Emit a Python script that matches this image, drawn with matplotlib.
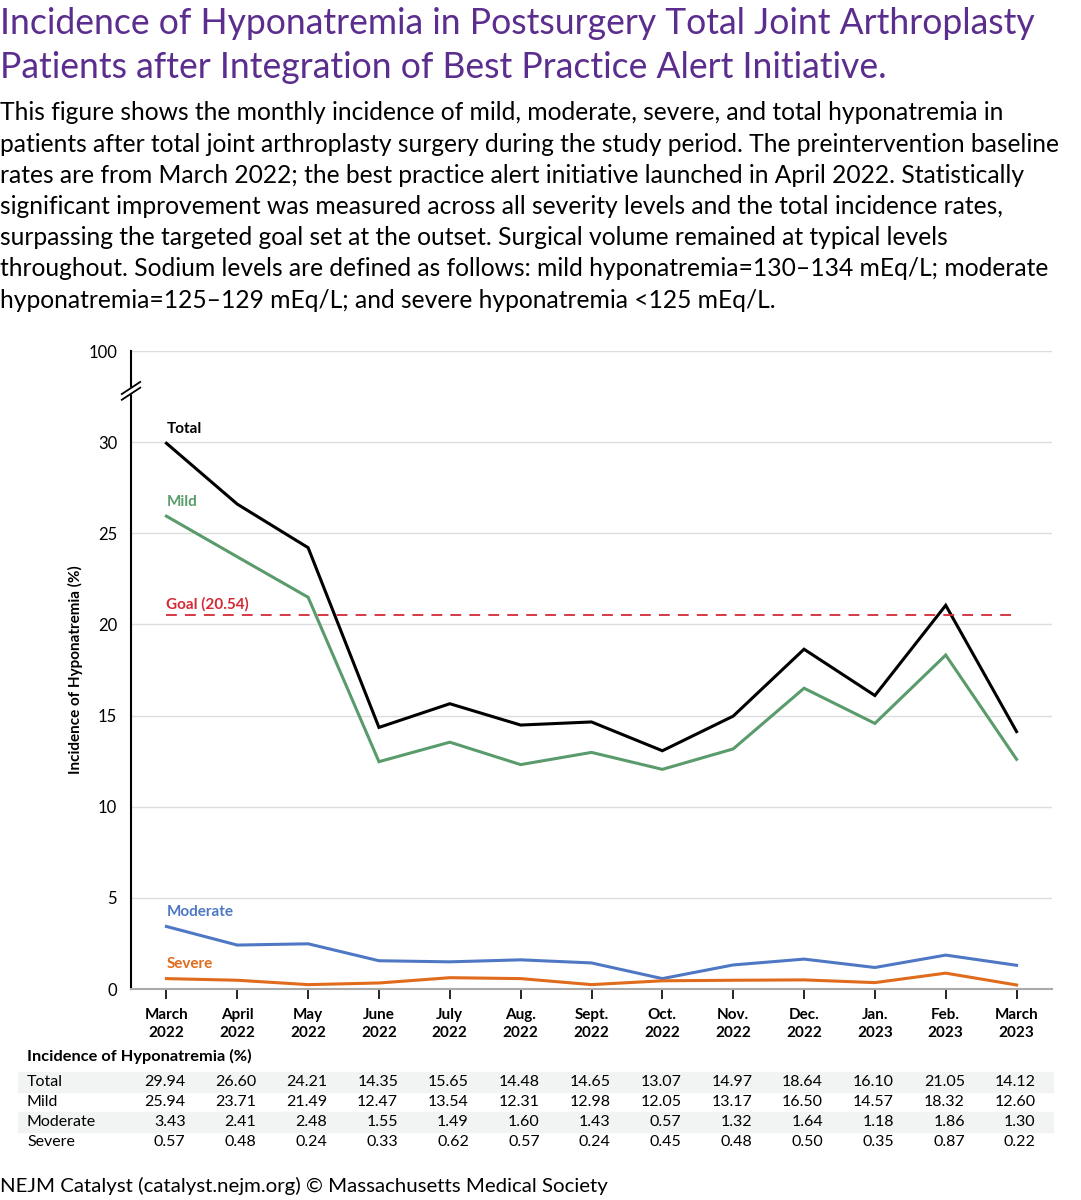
import matplotlib.pyplot as plt
from matplotlib.transforms import blended_transform_factory

plt.rcParams['font.family'] = ['Lato', 'DejaVu Sans']

# Данные
months = ['March\n2022', 'April\n2022', 'May\n2022', 'June\n2022', 'July\n2022', 'Aug.\n2022',
          'Sept.\n2022', 'Oct.\n2022', 'Nov.\n2022', 'Dec.\n2022', 'Jan.\n2023', 'Feb.\n2023',
          'March\n2023']
total = [29.94, 26.60, 24.21, 14.35, 15.65, 14.48, 14.65, 13.07, 14.97, 18.64, 16.10, 21.05, 14.12]
mild = [25.94, 23.71, 21.49, 12.47, 13.54, 12.31, 12.98, 12.05, 13.17, 16.50, 14.57, 18.32, 12.60]
moderate = [3.43, 2.41, 2.48, 1.55, 1.49, 1.60, 1.43, 0.57, 1.32, 1.64, 1.18, 1.86, 1.30]
severe = [0.57, 0.48, 0.24, 0.33, 0.62, 0.57, 0.24, 0.45, 0.48, 0.50, 0.35, 0.87, 0.22]
goal = 20.54
y_ticks = [0, 5, 10, 15, 20, 25, 30, 35]
y_labels = ['0', '5', '10', '15', '20', '25', '30', '100']

purple = '#5b2d8e'
c_total = '#000000'
c_mild = '#5a9b6c'
c_mod = '#4f78c4'
c_sev = '#e06b1c'
c_goal = '#d42a36'

fig = plt.figure(figsize=(10.81, 12), dpi=100)

# Заголовок и подзаголовок
fig.text(0.0, 1 - 24 / 1200, 'Incidence of Hyponatremia in Postsurgery Total Joint Arthroplasty',
         fontsize=25.6, color=purple, va='center', ha='left')
fig.text(0.0, 1 - 68 / 1200, 'Patients after Integration of Best Practice Alert Initiative.',
         fontsize=25.6, color=purple, va='center', ha='left')

body = ['This figure shows the monthly incidence of mild, moderate, severe, and total hyponatremia in',
        'patients after total joint arthroplasty surgery during the study period. The preintervention baseline',
        'rates are from March 2022; the best practice alert initiative launched in April 2022. Statistically',
        'significant improvement was measured across all severity levels and the total incidence rates,',
        'surpassing the targeted goal set at the outset. Surgical volume remained at typical levels',
        'throughout. Sodium levels are defined as follows: mild hyponatremia=130\u2013134 mEq/L; moderate',
        'hyponatremia=125\u2013129 mEq/L; and severe hyponatremia <125 mEq/L.']
for i, line in enumerate(body):
    fig.text(0.0, 1 - (113 + 31.2 * i) / 1200, line, fontsize=17.7, color='black',
             va='center', ha='left')

# Основная ось
ax = fig.add_axes([131 / 1081, 1 - 989 / 1200, (1052 - 131) / 1081, (989 - 351) / 1200])
x = list(range(len(months)))

ax.plot(x, total, color=c_total, lw=2.2, solid_joinstyle='miter')
ax.plot(x, mild, color=c_mild, lw=2.2, solid_joinstyle='miter')
ax.plot(x, moderate, color=c_mod, lw=2.2, solid_joinstyle='miter')
ax.plot(x, severe, color=c_sev, lw=2.2, solid_joinstyle='miter')
ax.plot([0, 12], [goal, goal], color=c_goal, lw=1.3, dashes=(6, 4.5))

ax.text(0, total[0] + 0.4, 'Total', color=c_total, fontsize=11, fontweight='bold', va='bottom')
ax.text(0, mild[0] + 0.4, 'Mild', color=c_mild, fontsize=11, fontweight='bold', va='bottom')
ax.text(0, goal + 0.15, 'Goal (20.54)', color=c_goal, fontsize=11, fontweight='bold', va='bottom')
ax.text(0, moderate[0] + 0.4, 'Moderate', color=c_mod, fontsize=11, fontweight='bold', va='bottom')
ax.text(0, severe[0] + 0.4, 'Severe', color=c_sev, fontsize=11, fontweight='bold', va='bottom')

ax.set_xlim(-0.5, 12.5)
ax.set_ylim(0, 35)
ax.set_yticks(y_ticks)
ax.set_yticklabels(y_labels, fontsize=12)
ax.set_xticks(x)
ax.set_xticklabels(months, fontsize=11, fontweight='bold', linespacing=1.35)
ax.tick_params(axis='y', length=0, pad=10)
ax.tick_params(axis='x', length=7, width=1.2, color='black', pad=7)
ax.grid(axis='y', color='#dddddd', lw=1)
ax.set_axisbelow(True)
for s in ['top', 'right']:
    ax.spines[s].set_visible(False)
ax.spines['left'].set_linewidth(1.5)
ax.spines['bottom'].set_color('#aaaaaa')
ax.spines['bottom'].set_linewidth(1.5)
ax.set_ylabel('Incidence of Hyponatremia (%)', fontsize=11, fontweight='bold', labelpad=4)

# Разрыв оси
bt = ax.transAxes
ax.fill([-0.02, 0.02, 0.02, -0.02], [0.9235, 0.9425, 0.9515, 0.9325], color='white',
        transform=bt, clip_on=False, zorder=5)
ax.plot([-0.01, 0.01], [0.9235, 0.9425], color='black', lw=1.3, transform=bt, clip_on=False, zorder=6)
ax.plot([-0.01, 0.01], [0.9325, 0.9515], color='black', lw=1.3, transform=bt, clip_on=False, zorder=6)

# Таблица под графиком
tr = blended_transform_factory(ax.transData, fig.transFigure)
fig.text(27 / 1081, 1 - 1056 / 1200, 'Incidence of Hyponatremia (%)', fontsize=11.8,
         fontweight='bold', va='center')
rows = [('Total', total), ('Mild', mild), ('Moderate', moderate), ('Severe', severe)]
row_y = [1082, 1102, 1122, 1142]
for k, ((name, vals), yp) in enumerate(zip(rows, row_y)):
    yf = 1 - yp / 1200
    if k % 2 == 0:
        fig.patches.append(plt.Rectangle((18 / 1081, 1 - (yp + 10) / 1200), (1053 - 18) / 1081,
                                         20 / 1200, transform=fig.transFigure,
                                         color='#f2f4f4', zorder=-1))
    fig.text(27 / 1081, yf, name, fontsize=11.5, va='center')
    for i, v in enumerate(vals):
        fig.text(i + 0.27, yf, f'{v:.2f}', transform=tr, fontsize=11.5, ha='right',
                 va='center')

fig.text(0.0, 1 - 1186 / 1200, 'NEJM Catalyst (catalyst.nejm.org) \u00a9 Massachusetts Medical Society',
         fontsize=14.7, va='center', ha='left')

fig.savefig('out.png', dpi=100)
